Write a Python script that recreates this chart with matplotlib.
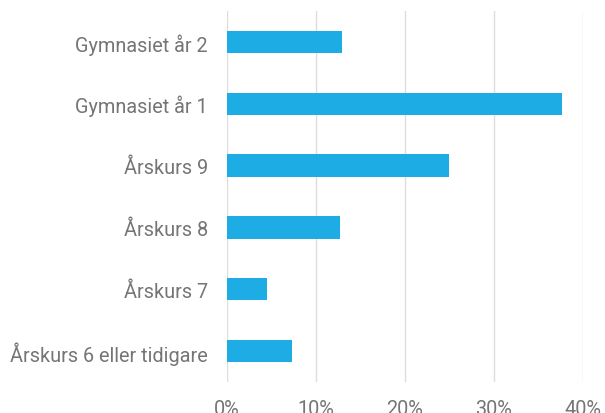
import matplotlib.pyplot as plt
from matplotlib.ticker import PercentFormatter

categories = [
    "Gymnasiet år 2",
    "Gymnasiet år 1",
    "Årskurs 9",
    "Årskurs 8",
    "Årskurs 7",
    "Årskurs 6 eller tidigare",
]
shares = [12.9, 37.6, 24.9, 12.7, 4.5, 7.3]
x_ticks = [0, 10, 20, 30, 40]

plt.rcParams["font.family"] = ["Roboto", "DejaVu Sans"]

fig = plt.figure(figsize=(6.05, 4.14), dpi=100)
ax = fig.add_axes([0.375, 0.075, 0.5885, 0.896])

y = list(range(len(categories)))[::-1]
ax.barh(y, shares, height=0.36, color="#1EACE4", zorder=3)

ax.set_xlim(0, 40)
ax.set_ylim(-0.5, len(categories) - 0.5)
ax.set_xticks(x_ticks)
ax.xaxis.set_major_formatter(PercentFormatter(decimals=0))
ax.set_yticks(y)
ax.set_yticklabels(categories)

ax.grid(axis="x", color="#DDDDDD", linewidth=1, zorder=0)
for side in ["top", "right", "bottom", "left"]:
    ax.spines[side].set_visible(False)
ax.tick_params(axis="both", length=0, labelsize=14.3, colors="#757575")
ax.tick_params(axis="y", pad=13.7)
ax.tick_params(axis="x", pad=12.5)

fig.savefig("out.png", dpi=100)
